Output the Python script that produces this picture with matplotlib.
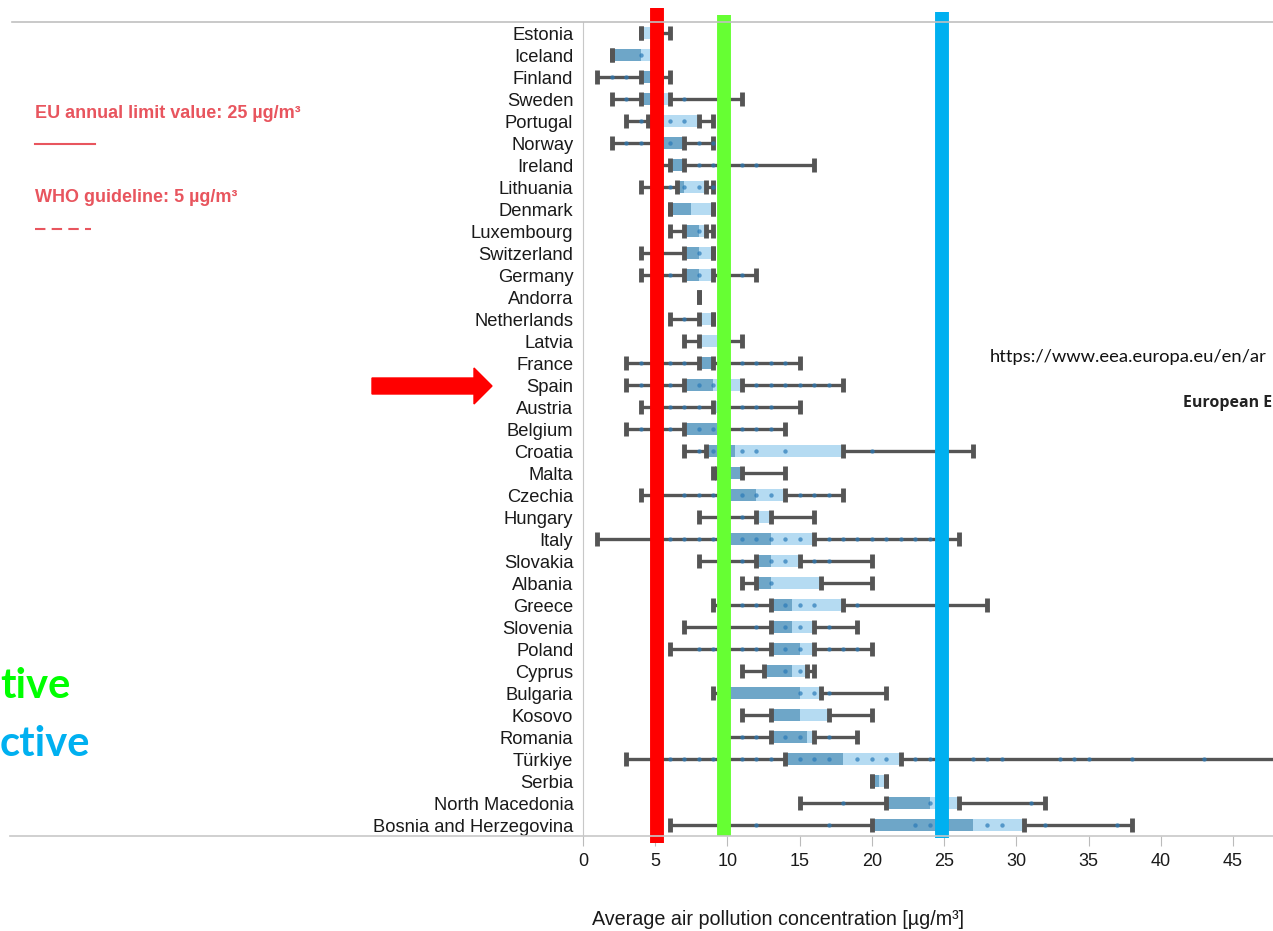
import matplotlib
matplotlib.use("Agg")
import matplotlib.pyplot as plt
from matplotlib.lines import Line2D
from matplotlib.patches import FancyArrow

# PM2.5 box data per country
countries = ["Estonia", "Iceland", "Finland", "Sweden", "Portugal", "Norway", "Ireland",
             "Lithuania", "Denmark", "Luxembourg", "Switzerland", "Germany", "Andorra",
             "Netherlands", "Latvia", "France", "Spain", "Austria", "Belgium", "Croatia",
             "Malta", "Czechia", "Hungary", "Italy", "Slovakia", "Albania", "Greece",
             "Slovenia", "Poland", "Cyprus", "Bulgaria", "Kosovo", "Romania", "Türkiye",
             "Serbia", "North Macedonia", "Bosnia and Herzegovina"]
mins = [4, 2, 1, 2, 3, 2, 5, 4, 6, 6, 4, 4, 8, 6, 7, 3, 3, 4, 3, 7,
        9, 4, 8, 1, 8, 11, 9, 7, 6, 11, 9, 11, 10, 3, 20, 15, 6]
q1s = [4, 2, 4, 4, 4.5, 5, 6, 6.5, 6, 7, 7, 7, 8, 8, 8, 8, 7, 9, 7, 8.5,
       9.3, 10, 12, 10, 12, 12, 13, 13, 13, 12.5, 10, 13, 13, 14, 20, 21, 20]
medians = [4, 4, 5, 5, 5.5, 7, 7, 7, 7.5, 8, 8, 8, 8, 8, 8, 9, 9, 9, 9.5, 10.5,
           11, 12, 12, 13, 13, 13, 14.5, 14.5, 15, 14.5, 15, 15, 15.5, 18, 20.5, 24, 27]
q3s = [5, 5, 5.4, 6, 8, 7, 7, 8.5, 9, 8.5, 9, 9, 8, 9, 10, 9, 11, 9.5, 9.5, 18,
       11, 14, 13, 16, 15, 16.5, 18, 16, 16, 15.5, 16.5, 17, 16, 22, 21, 26, 30.5]
maxs = [6, 5, 6, 11, 9, 9, 16, 9, 9, 9, 9, 12, 8, 9, 11, 15, 18, 15, 14, 27,
        14, 18, 16, 26, 20, 20, 28, 19, 20, 16, 21, 20, 19, 55, 21, 32, 38]
dots = [[], [4], [2, 3], [3, 7], [4, 6, 7], [3, 4, 6, 8, 9], [8, 9, 11, 12],
        [6, 7, 8, 9], [], [8], [8], [6, 8, 11], [], [7], [],
        [4, 6, 7, 11, 12, 13, 14], [4, 6, 8, 9, 12, 13, 14, 15, 16, 17],
        [6, 7, 8, 11, 12, 13], [4, 6, 8, 9, 11, 12, 13], [8, 9, 11, 12, 14, 20],
        [], [7, 8, 9, 11, 12, 13, 15, 16, 17], [11],
        [6, 7, 8, 9, 11, 12, 13, 14, 15, 17, 18, 19, 20, 21, 22, 23, 24],
        [11, 13, 14, 16, 17], [13], [11, 12, 14, 15, 16, 19], [12, 14, 15, 17],
        [8, 9, 11, 12, 14, 15, 17, 18, 19], [14, 15], [15, 16, 17], [],
        [11, 12, 14, 15, 17],
        [6, 7, 8, 9, 11, 12, 13, 15, 16, 17, 19, 20, 21, 23, 24, 27, 28, 29, 33, 34, 35, 38, 43],
        [], [18, 24, 31], [12, 17, 23, 24, 28, 29, 32, 37]]

# hand-drawn reference lines on the screenshot
ref_lines = [5.1, 9.78, 24.87]
ref_colors = ["#ff0000", "#66ff33", "#00b0f0"]
ref_spans = [(-0.009, 1.017), (0.0, 1.009), (-0.003, 1.012)]

W, H = 1273, 931
fig = plt.figure(figsize=(W / 100, H / 100), dpi=100)
plt.rcParams["font.family"] = ["Liberation Sans", "DejaVu Sans"]

ax = fig.add_axes([583 / W, 1 - 836 / H, 1 - 583 / W, (836 - 22) / H])
ys = list(range(len(countries)))
grey = "#555555"

ax.barh(ys, [m - a for a, m in zip(q1s, medians)], left=q1s, height=0.58,
        color="#6ea6c8", zorder=2)
ax.barh(ys, [b - m for m, b in zip(medians, q3s)], left=medians, height=0.58,
        color="#b5dbf2", zorder=2)
ax.hlines(ys, mins, q1s, color=grey, lw=2.4, zorder=3)
ax.hlines(ys, q3s, maxs, color=grey, lw=2.4, zorder=3)
for vals in (mins, q1s, q3s, maxs):
    ax.vlines(vals, [y - 0.31 for y in ys], [y + 0.31 for y in ys],
              color=grey, lw=3.5, zorder=4)
for y, d in zip(ys, dots):
    ax.scatter(d, [y] * len(d), s=10, color="#2a7ab8", alpha=0.7, lw=0, zorder=5)

for x, c, (lo, hi) in zip(ref_lines, ref_colors, ref_spans):
    ax.axvline(x, ymin=lo, ymax=hi, color=c, lw=10, clip_on=False, zorder=6,
               solid_capstyle="butt")

ax.set_xlim(0, (W - 582.7) / 14.45)
ax.set_ylim(36.5, -0.5)
ax.set_yticks(ys)
ax.set_yticklabels(countries, fontsize=13.2, color="#1a1a1a")
ax.tick_params(axis="y", length=0, pad=7)
ax.set_xticks(range(0, 50, 5))
ax.tick_params(axis="x", length=7, color="#bbbbbb", labelsize=13, labelcolor="#1a1a1a", pad=5)
for s in ("top", "right", "bottom"):
    ax.spines[s].set_visible(False)
ax.spines["left"].set_color("#c8c8c8")
ax.set_xlabel("Average air pollution concentration [µg/m³]", fontsize=14.2,
              color="#1a1a1a")
ax.xaxis.set_label_coords((778 - 583) / (W - 583), -(910 - 836) / (836 - 22))

# frame lines running across the whole screenshot
fig.add_artist(Line2D([12 / W, 1], [1 - 22 / H] * 2, color="#c0c0c0", lw=1.2))
fig.add_artist(Line2D([10 / W, 1], [1 - 836 / H] * 2, color="#c8c8c8", lw=1.2))

# left-hand legend text
pink = "#e8555e"
fig.text(35 / W, 1 - 113 / H, "EU annual limit value: 25 µg/m³", color=pink,
         fontsize=13, fontweight="bold", va="center")
fig.add_artist(Line2D([35 / W, 95 / W], [1 - 144 / H] * 2, color=pink, lw=1.5))
fig.text(35 / W, 1 - 198 / H, "WHO guideline: 5 µg/m³", color=pink,
         fontsize=13, fontweight="bold", va="center")
fig.add_artist(Line2D([35 / W, 91 / W], [1 - 229 / H] * 2, color=pink, lw=1.5,
                      ls=(0, (5, 3))))

fig.text(0, 1 - 686 / H, "tive", color="#00ff00", fontsize=30, fontweight="bold",
         va="center", family=["Lato", "DejaVu Sans"])
fig.text(0, 1 - 744 / H, "ctive", color="#00b0f0", fontsize=30, fontweight="bold",
         va="center", family=["Lato", "DejaVu Sans"])

fig.text(990 / W, 1 - 357 / H, "https://www.eea.europa.eu/en/ar", fontsize=13.2,
         va="center", color="#111111", family=["Lato", "DejaVu Sans"])
fig.text(1183 / W, 1 - 403 / H, "European E", fontsize=11.5, fontweight="bold",
         va="center", color="#222222", family=["Open Sans", "DejaVu Sans"])

fig.add_artist(FancyArrow(372 / W, 1 - 386 / H, 120 / W, 0, width=16 / H,
                          head_width=36 / H, head_length=18 / W,
                          length_includes_head=True, color="#ff0000",
                          transform=fig.transFigure))

fig.savefig("out.png", dpi=100)
